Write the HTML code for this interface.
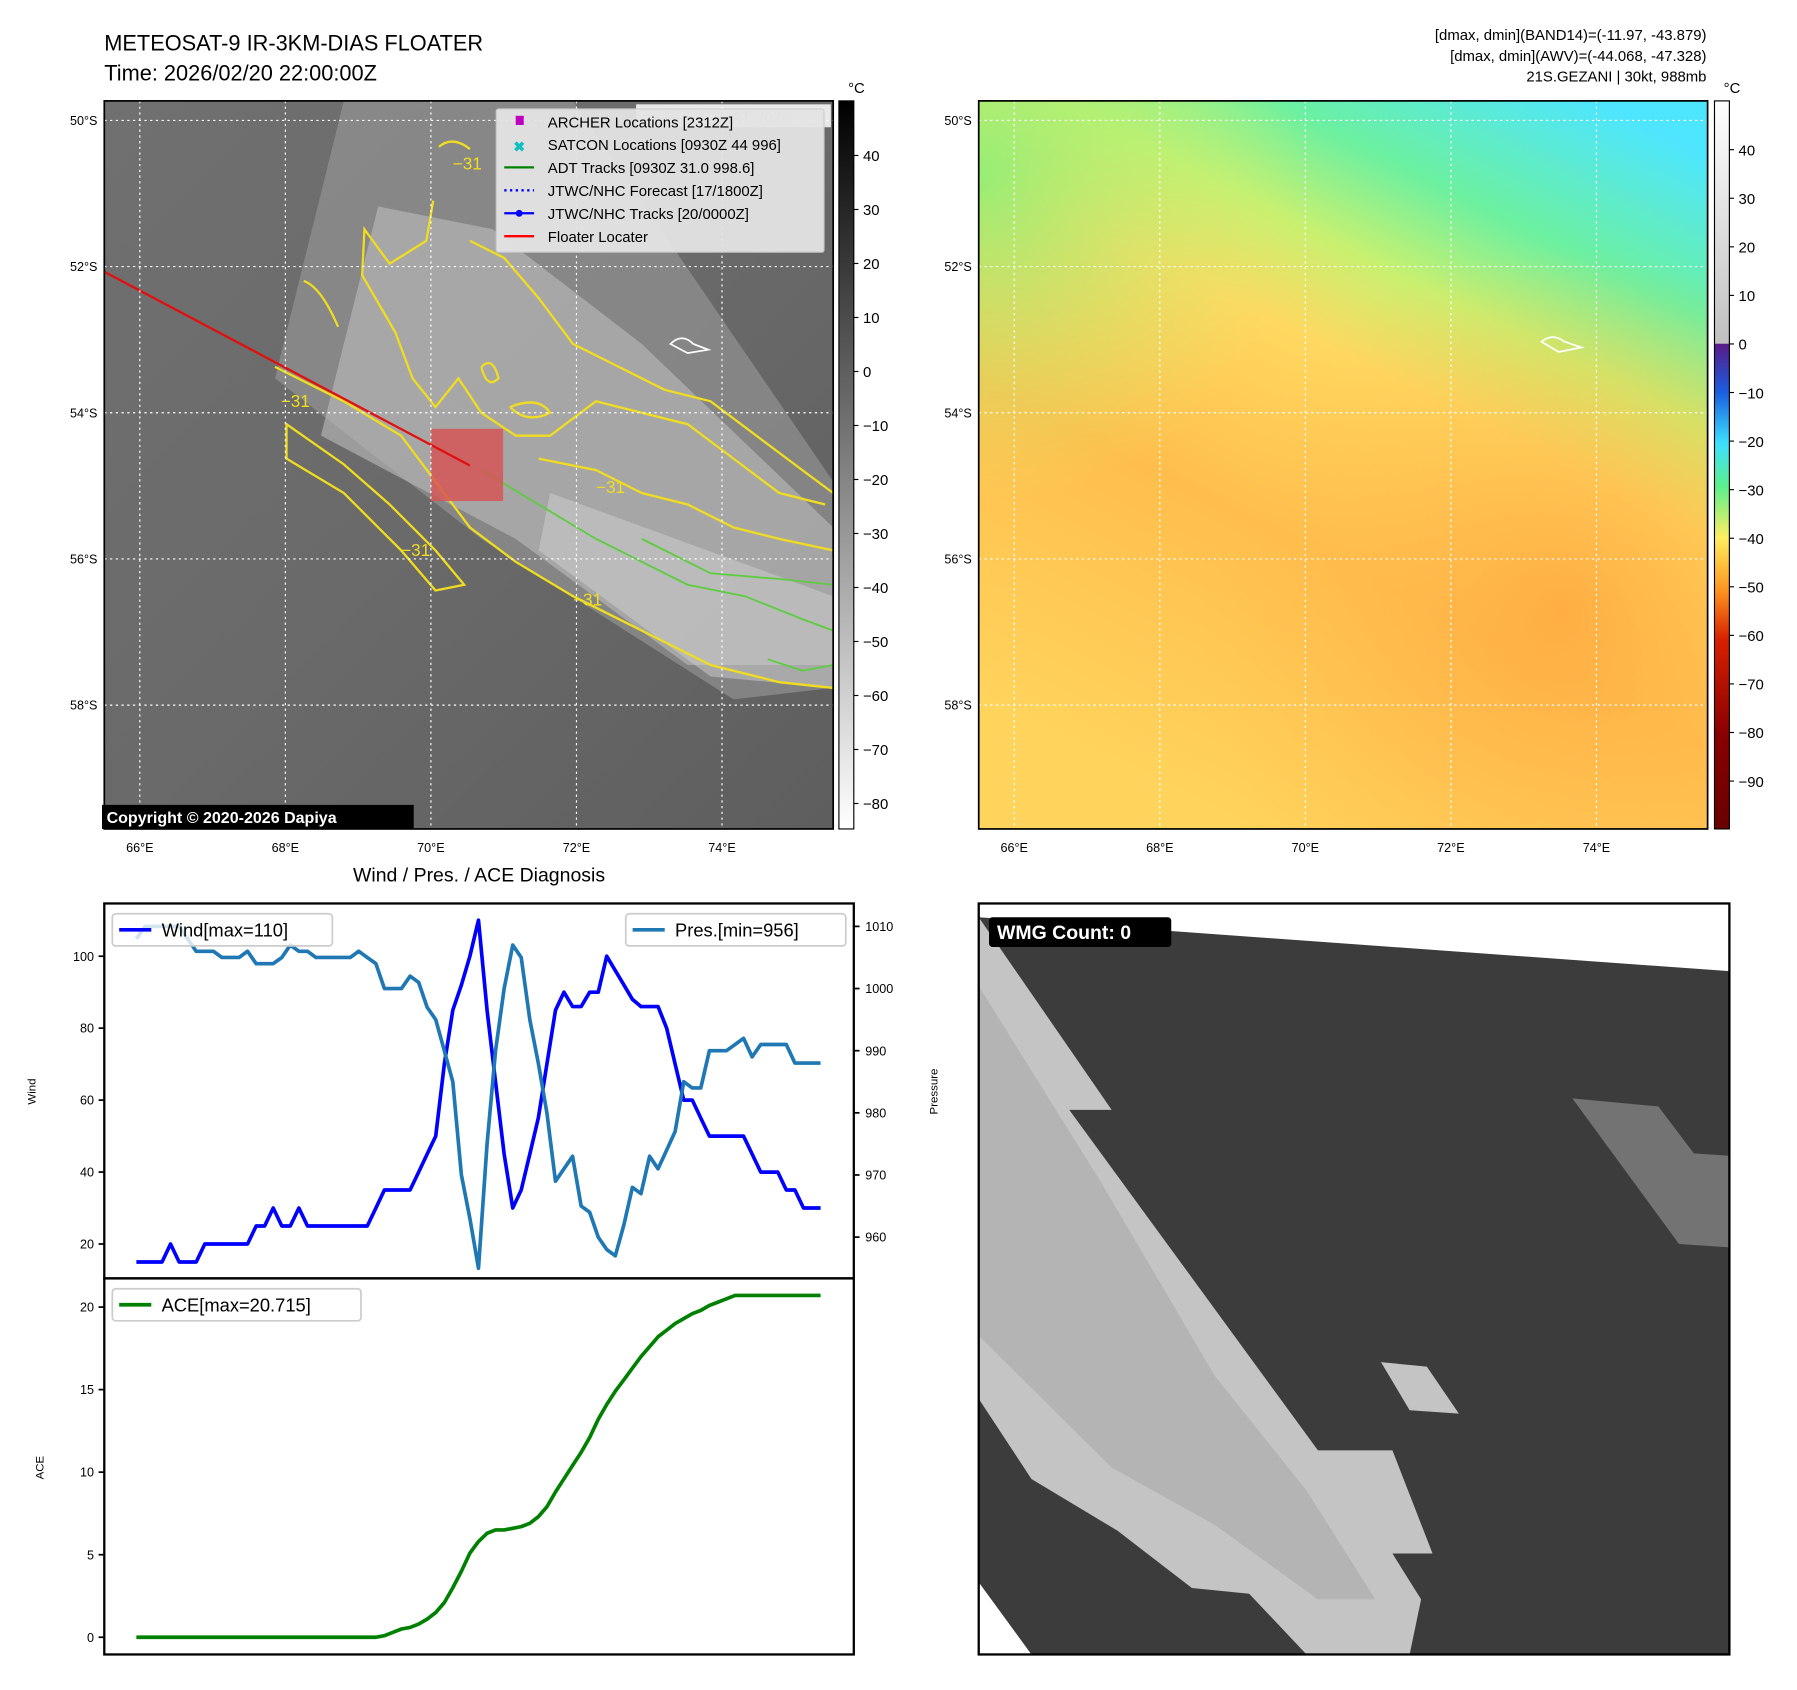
<!DOCTYPE html>
<html><head><meta charset="utf-8"><style>
html,body{margin:0;padding:0;background:#fff;}
svg{display:block;font-family:"Liberation Sans",sans-serif;}
</style></head><body>
<svg id="root" width="1797" height="1690" viewBox="0 0 1568 1474" preserveAspectRatio="none" xmlns="http://www.w3.org/2000/svg">
<defs>
<linearGradient id="irbg" x1="0" y1="0" x2="1" y2="1">
<stop offset="0" stop-color="#707070"/><stop offset="0.5" stop-color="#6a6a6a"/><stop offset="1" stop-color="#5e5e5e"/></linearGradient>
<linearGradient id="cbgray" x1="0" y1="0" x2="0" y2="1"><stop offset="0" stop-color="#000"/><stop offset="1" stop-color="#fff"/></linearGradient>
<linearGradient id="cbcol" x1="0" y1="0" x2="0" y2="1">
<stop offset="0" stop-color="#ffffff"/><stop offset="0.333" stop-color="#c0c0c0"/><stop offset="0.334" stop-color="#5a1a8a"/>
<stop offset="0.40" stop-color="#1a5ee0"/><stop offset="0.47" stop-color="#3ce0ff"/><stop offset="0.53" stop-color="#5cf08c"/>
<stop offset="0.60" stop-color="#ffee60"/><stop offset="0.67" stop-color="#ff9820"/><stop offset="0.74" stop-color="#d82000"/>
<stop offset="0.87" stop-color="#8a0000"/><stop offset="1" stop-color="#6a0000"/></linearGradient>
<linearGradient id="awv" x1="0.85" y1="0" x2="0.35" y2="1">
<stop offset="0" stop-color="#4ee6ff"/><stop offset="0.18" stop-color="#6cf0a0"/><stop offset="0.30" stop-color="#c8f070"/>
<stop offset="0.42" stop-color="#ffd860"/><stop offset="0.65" stop-color="#ffbe4c"/><stop offset="1" stop-color="#ffd45c"/></linearGradient>
<radialGradient id="awvband" cx="0.8" cy="0.7" r="0.5"><stop offset="0" stop-color="#ffa840" stop-opacity="0.8"/><stop offset="1" stop-color="#ffc050" stop-opacity="0"/></radialGradient>
<radialGradient id="awvtl" cx="0" cy="0.1" r="0.45"><stop offset="0" stop-color="#8af078" stop-opacity="0.9"/><stop offset="1" stop-color="#d0f070" stop-opacity="0"/></radialGradient>
</defs>

<text x="91" y="44" font-size="19">METEOSAT-9 IR-3KM-DIAS FLOATER</text>
<text x="91" y="70" font-size="19">Time: 2026/02/20 22:00:00Z</text>
<g font-size="13" text-anchor="end">
<text x="1489" y="35">[dmax, dmin](BAND14)=(-11.97, -43.879)</text>
<text x="1489" y="53">[dmax, dmin](AWV)=(-44.068, -47.328)</text>
<text x="1489" y="71">21S.GEZANI | 30kt, 988mb</text>
</g>

<g>
<rect x="91" y="88" width="636" height="635" fill="url(#irbg)"/>
<path d="M300 88 L500 88 L727 420 L727 600 L640 610 L420 470 L240 330 Z" fill="#9a9a9a" opacity="0.6"/>
<path d="M330 180 L430 200 L560 300 L727 460 L727 580 L600 580 L450 470 L280 380 Z" fill="#bcbcbc" opacity="0.6"/>
<path d="M480 430 L727 520 L727 600 L620 590 L470 480 Z" fill="#d0d0d0" opacity="0.5"/>
<g fill="none" stroke="#f0dc20" stroke-width="2">
<path d="M383 128 Q395 118 410 130"/>
<path d="M378 175 L372 210 L340 230 L318 200 L316 240 L345 290 L360 330 L380 355 L400 330 L420 360 L450 380 L480 380 L520 350 L560 360 L600 370 L640 400 L680 430 L720 440"/>
<path d="M240 320 L300 350 L350 380 L380 420 L410 460 L450 490 L500 520 L560 550 L620 580 L680 595 L727 600"/>
<path d="M250 370 L300 405 L340 440 L380 480 L405 510 L380 515 L350 480 L300 430 L250 400 Z"/>
<path d="M410 210 L440 225 L470 260 L500 300 L540 320 L580 340 L620 350 L660 380 L700 410 L727 430"/>
<path d="M470 400 L520 410 L560 430 L600 440 L640 460 L680 470 L727 480"/>
<path d="M420 320 Q430 310 435 330 Q425 340 420 320"/>
<path d="M445 355 Q470 345 480 360 Q460 370 445 355"/>
<path d="M265 245 Q280 250 295 285"/>
</g>
<g fill="none" stroke="#5ecc40" stroke-width="1.6">
<path d="M420 410 L470 440 L520 470 L560 490 L600 510 L650 520 L700 540 L727 550"/>
<path d="M560 470 L620 500 L680 505 L727 510"/>
<path d="M670 575 L700 585 L727 580"/>
</g>
<g fill="#f0dc20" font-size="15">
<text x="395" y="148">−31</text><text x="520" y="430">−31</text><text x="350" y="485">−31</text><text x="500" y="528">−31</text><text x="245" y="355">−31</text>
</g>
<path d="M585 300 Q595 290 605 300 L618 305 L600 308 Z" fill="none" stroke="#fff" stroke-width="1.5"/>
<rect x="376" y="374" width="63" height="63" fill="#d85050" opacity="0.8"/>
<line x1="91" y1="237" x2="410" y2="406" stroke="#e01010" stroke-width="2"/>
<g id="ir-grid" stroke="#fff" stroke-width="1" stroke-dasharray="2,3"></g>
<rect x="555" y="91" width="170" height="20" fill="#fff" opacity="0.85"/>
<text x="565" y="107" font-size="14" font-weight="bold" fill="#ccc">© EUMETSAT 2026</text>
<rect x="91" y="88" width="636" height="635" fill="none" stroke="#000" stroke-width="1.5"/>
<rect x="89" y="702" width="272" height="21" fill="#000"/>
<text x="93" y="718" font-size="14" font-weight="bold" fill="#fff">Copyright © 2020-2026 Dapiya</text>
</g>

<g font-size="13">
<rect x="433" y="95" width="286" height="125" fill="#e4e4e4" stroke="#ccc" opacity="0.95" rx="2"/>
<rect x="450" y="101" width="7" height="8" fill="#c000c0"/><text x="478" y="111">ARCHER Locations [2312Z]</text>
<text x="448" y="132" fill="#10c0c0" font-weight="bold" font-size="12">✖</text><text x="478" y="131">SATCON Locations [0930Z 44 996]</text>
<line x1="440" y1="146" x2="466" y2="146" stroke="#008000" stroke-width="2"/><text x="478" y="151">ADT Tracks [0930Z 31.0 998.6]</text>
<line x1="440" y1="166" x2="466" y2="166" stroke="#0000ff" stroke-width="2" stroke-dasharray="2,3"/><text x="478" y="171">JTWC/NHC Forecast [17/1800Z]</text>
<line x1="440" y1="186" x2="466" y2="186" stroke="#0000ff" stroke-width="2"/><circle cx="453" cy="186" r="3" fill="#0000ff"/><text x="478" y="191">JTWC/NHC Tracks [20/0000Z]</text>
<line x1="440" y1="206" x2="466" y2="206" stroke="#ff0000" stroke-width="2"/><text x="478" y="211">Floater Locater</text>
</g>

<g>
<rect x="854" y="88" width="636" height="635" fill="url(#awv)"/>
<rect x="854" y="88" width="636" height="635" fill="url(#awvtl)"/>
<rect x="854" y="88" width="636" height="635" fill="url(#awvband)"/>
<path d="M1345 298 Q1355 290 1365 298 L1380 303 L1360 307 Z" fill="none" stroke="#fff" stroke-width="1.5"/>
<g id="awv-grid" stroke="#fff" stroke-width="1" stroke-dasharray="2,3"></g>
<rect x="854" y="88" width="636" height="635" fill="none" stroke="#000" stroke-width="1.5"/>
</g>

<g>
<rect x="732" y="88" width="13" height="635" fill="url(#cbgray)" stroke="#000"/>
<text x="740" y="81" font-size="13">°C</text>
<g id="ir-cb-ticks" font-size="13"></g>
</g>
<g>
<rect x="1496" y="88" width="13" height="635" fill="url(#cbcol)" stroke="#000"/>
<text x="1504" y="81" font-size="13">°C</text>
<g id="awv-cb-ticks" font-size="13"></g>
</g>

<text x="418" y="769" font-size="17" text-anchor="middle">Wind / Pres. / ACE Diagnosis</text>
<g id="diag"></g>

<g>
<rect x="854" y="788" width="655" height="655" fill="#3c3c3c"/>
<polygon points="854,788 1509,788 1509,847 854,800" fill="#fff"/>
<polygon points="854,1380 900,1443 854,1443" fill="#fff"/>
<polygon points="854,800 970,968 933,968 1150,1265 1215,1265 1250,1355 1215,1355 1240,1395 1230,1443 1140,1443 1090,1390 1040,1385 975,1335 900,1290 854,1220" fill="#c4c4c4"/>
<polygon points="854,860 960,1030 1060,1200 1140,1300 1200,1395 1150,1395 1060,1330 970,1280 854,1165" fill="#b4b4b4"/>
<polygon points="1205,1188 1245,1192 1273,1233 1230,1230" fill="#c4c4c4"/>
<polygon points="1372,958 1447,965 1478,1006 1509,1008 1509,1088 1465,1085" fill="#737373"/>
<rect x="854" y="788" width="655" height="655" fill="none" stroke="#000" stroke-width="2"/>
<rect x="863" y="800" width="159" height="26" rx="3" fill="#000"/>
<text x="870" y="819" font-size="17" font-weight="bold" fill="#fff">WMG Count: 0</text>
</g>

<script>
var lonTicks = [66, 68, 70, 72, 74];
var latTicks = [50, 52, 54, 56, 58];
var irCbTicks = [40, 30, 20, 10, 0, -10, -20, -30, -40, -50, -60, -70, -80];
var awvCbTicks = [40, 30, 20, 10, 0, -10, -20, -30, -40, -50, -60, -70, -80, -90];
var timeIndex = [];
for (var t = 0; t <= 80; t++) timeIndex.push(t);
var windValues = [15,15,15,15,20,15,15,15,20,20,20,20,20,20,25,25,30,25,25,30,25,25,25,25,25,25,25,25,30,35,35,35,35,40,45,50,70,85,92,100,110,85,65,45,30,35,45,55,70,85,90,86,86,90,90,100,96,92,88,86,86,86,80,70,60,60,55,50,50,50,50,50,45,40,40,40,35,35,30,30,30];
var presValues = [1008,1010,1010,1010,1010,1010,1008,1006,1006,1006,1005,1005,1005,1006,1004,1004,1004,1005,1007,1006,1006,1005,1005,1005,1005,1005,1006,1005,1004,1000,1000,1000,1002,1001,997,995,990,985,970,963,955,975,990,1000,1007,1005,995,988,980,969,971,973,965,964,960,958,957,962,968,967,973,971,974,977,985,984,984,990,990,990,991,992,989,991,991,991,991,988,988,988,988];
var aceValues = [0,0,0,0,0,0,0,0,0,0,0,0,0,0,0,0,0,0,0,0,0,0,0,0,0,0,0,0,0,0.1,0.3,0.5,0.6,0.8,1.1,1.5,2.1,3.0,4.0,5.1,5.8,6.3,6.5,6.5,6.6,6.7,6.9,7.3,7.9,8.8,9.6,10.4,11.2,12.1,13.2,14.1,14.9,15.6,16.3,17.0,17.6,18.2,18.6,19.0,19.3,19.6,19.8,20.1,20.3,20.5,20.7,20.7,20.7,20.7,20.7,20.7,20.7,20.7,20.7,20.7,20.7];
var windTicks = [20, 40, 60, 80, 100];
var presTicks = [960, 970, 980, 990, 1000, 1010];
var aceTicks = [0, 5, 10, 15, 20];

var NS = "http://www.w3.org/2000/svg";
function mk(tag, attrs, parent) {
  var e = document.createElementNS(NS, tag);
  for (var k in attrs) e.setAttribute(k, attrs[k]);
  parent.appendChild(e);
  return e;
}
function txt(str, attrs, parent) { var e = mk("text", attrs, parent); e.textContent = str; return e; }

function lonX(lon, x0) { return x0 + 31 + (lon - 66) * 63.5; }
function latY(lat) { return 105 + (lat - 50) * 63.75; }
var root = document.getElementById("root");
[[91, "ir-grid"], [854, "awv-grid"]].forEach(function (p) {
  var g = document.getElementById(p[1]);
  lonTicks.forEach(function (lon) {
    var x = lonX(lon, p[0]);
    var l = mk("line", {x1: x, y1: 88, x2: x, y2: 723}, g);
    
    
    var tl = txt(lon + "°E", {x: x, y: 743, "font-size": 11, "text-anchor": "middle", stroke: "none"}, root);
    
    
  });
  latTicks.forEach(function (lat) {
    var y = latY(lat);
    var l = mk("line", {x1: p[0], y1: y, x2: p[0] + 636, y2: y}, g);
    
    
    var tl = txt(lat + "°S", {x: p[0] - 6, y: y + 4, "font-size": 11, "text-anchor": "end"}, root);
    
    
  });
});
function cbTicks(id, ticks, x, yOf) {
  var g = document.getElementById(id);
  ticks.forEach(function (v) {
    var y = yOf(v);
    mk("line", {x1: x, y1: y, x2: x + 4, y2: y, stroke: "#000"}, g);
    var tl = txt(v < 0 ? "−" + (-v) : String(v), {x: x + 8, y: y + 5}, g);
    
    
  });
}
cbTicks("ir-cb-ticks", irCbTicks, 745, function (v) { return 324 - v * 4.71; });
cbTicks("awv-cb-ticks", awvCbTicks, 1509, function (v) { return 300 - v * 4.236; });

var diag = document.getElementById("diag");
function xT(i) { return 119 + i * (597 / 80); }
function yW(v) { return 1085 - (v - 20) * 3.1375; }
function yP(v) { return 808 + (1010 - v) * 5.42; }
function yA(v) { return 1428 - v * 14.4; }
function poly(vals, yf, color, name) {
  var pts = vals.map(function (v, i) { return xT(timeIndex[i]).toFixed(1) + "," + yf(v).toFixed(1); }).join(" ");
  var p = mk("polyline", {points: pts, fill: "none", stroke: color, "stroke-width": 3.2, "stroke-linejoin": "round"}, diag);
  
  
}
poly(windValues, yW, "#0000ff", "wind-line");
poly(presValues, yP, "#1f77b4", "pressure-line");
poly(aceValues, yA, "#008000", "ace-line");
mk("rect", {x: 91, y: 788, width: 654, height: 327, fill: "none", stroke: "#000", "stroke-width": 2}, diag);
mk("rect", {x: 91, y: 1115, width: 654, height: 328, fill: "none", stroke: "#000", "stroke-width": 2}, diag);
windTicks.forEach(function (v) {
  var y = yW(v);
  mk("line", {x1: 86, y1: y, x2: 91, y2: y, stroke: "#000", "stroke-width": 1.5}, diag);
  var tl = txt(String(v), {x: 82, y: y + 4, "font-size": 11, "text-anchor": "end"}, diag);
  
  
});
presTicks.forEach(function (v) {
  var y = yP(v);
  mk("line", {x1: 745, y1: y, x2: 750, y2: y, stroke: "#000", "stroke-width": 1.5}, diag);
  var tl = txt(String(v), {x: 755, y: y + 4, "font-size": 11}, diag);
  
  
});
aceTicks.forEach(function (v) {
  var y = yA(v);
  mk("line", {x1: 86, y1: y, x2: 91, y2: y, stroke: "#000", "stroke-width": 1.5}, diag);
  var tl = txt(String(v), {x: 82, y: y + 4, "font-size": 11, "text-anchor": "end"}, diag);
  
  
});
var yl = txt("Wind", {x: 31, y: 952, "font-size": 10, "text-anchor": "middle", transform: "rotate(-90 31 952)"}, diag);


var pl = txt("Pressure", {x: 818, y: 952, "font-size": 10, "text-anchor": "middle", transform: "rotate(-90 818 952)"}, diag);


var al = txt("ACE", {x: 38, y: 1280, "font-size": 10, "text-anchor": "middle", transform: "rotate(-90 38 1280)"}, diag);


function legend(x, y, w, color, label, name) {
  var g = mk("g", {}, diag);
  
  
  mk("rect", {x: x, y: y, width: w, height: 28, fill: "#fff", "fill-opacity": 0.8, stroke: "#ccc", "stroke-width": 1.5, rx: 3}, g);
  mk("line", {x1: x + 6, y1: y + 14, x2: x + 34, y2: y + 14, stroke: color, "stroke-width": 3.2}, g);
  txt(label, {x: x + 43, y: y + 20, "font-size": 16}, g);
}
legend(98, 797, 192, "#0000ff", "Wind[max=110]", "wind-legend");
legend(546, 797, 192, "#1f77b4", "Pres.[min=956]", "pressure-legend");
legend(98, 1124, 217, "#008000", "ACE[max=20.715]", "ace-legend");
</script>
</svg>
</body></html>
